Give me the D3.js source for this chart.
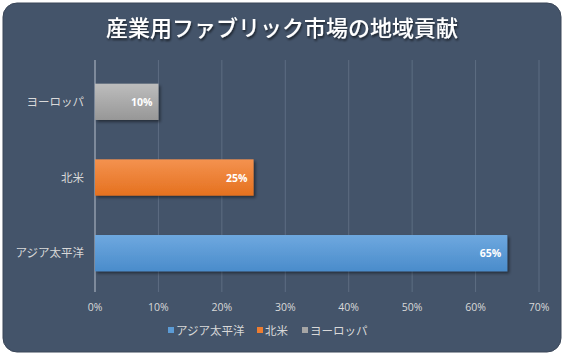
<!DOCTYPE html>
<html><head><meta charset="utf-8">
<script src="https://cdn.jsdelivr.net/npm/d3@7"></script>
<style>body{margin:0;background:#fff}svg{display:block}</style>
</head><body><svg id="c" width="564" height="356"></svg>
<script>
const categories = ["ヨーロッパ", "北米", "アジア太平洋"];
const values = [10, 25, 65];
const colors = ["#a5a5a5", "#ed7d31", "#5b9bd5"];
const legendOrder = ["アジア太平洋", "北米", "ヨーロッパ"];
const ticks = [0, 10, 20, 30, 40, 50, 60, 70];
const title = "産業用ファブリック市場の地域貢献";

const svg = d3.select("#c");
const font = "'Noto Sans CJK JP', 'Noto Sans', sans-serif";
const defs = svg.append("defs");
const sh = defs.append("filter").attr("id","sh").attr("x","-10%").attr("y","-20%").attr("width","130%").attr("height","160%");
sh.append("feDropShadow").attr("dx",2).attr("dy",2).attr("stdDeviation",1.5).attr("flood-color","#000").attr("flood-opacity",0.45);
const tsh = defs.append("filter").attr("id","tsh");
tsh.append("feDropShadow").attr("dx",1).attr("dy",2).attr("stdDeviation",1.2).attr("flood-color","#000").attr("flood-opacity",0.6);
const base = {"ヨーロッパ":["#bdbdbd","#979797"],"北米":["#f4924f","#e5711f"],"アジア太平洋":["#6ea8df","#4a8ccb"]};
categories.forEach((c,i)=>{
  const g = defs.append("linearGradient").attr("id","g"+i).attr("x1",0).attr("y1",0).attr("x2",0).attr("y2",1);
  g.append("stop").attr("offset","0%").attr("stop-color",base[c][0]);
  g.append("stop").attr("offset","100%").attr("stop-color",base[c][1]);
});

svg.append("rect").attr("x",3).attr("y",3).attr("width",558).attr("height",349).attr("rx",14).attr("fill","#44546a").attr("stroke","#3a4658");

svg.append("text").attr("x",282).attr("y",36).attr("text-anchor","middle").attr("fill","#fff")
  .attr("font-family",font).attr("font-size",22).attr("font-weight",500).attr("filter","url(#tsh)").text(title);

const x = d3.scaleLinear().domain([0,70]).range([95,539]);
const y = d3.scaleBand().domain(categories).range([64,291]).paddingInner(0.52).paddingOuter(0.26);

svg.append("g").selectAll("line").data(ticks.slice(1)).join("line")
  .attr("x1",d=>x(d)).attr("x2",d=>x(d)).attr("y1",60).attr("y2",292)
  .attr("stroke","#5d6d82").attr("stroke-width",1);
svg.append("line").attr("x1",x(0)).attr("x2",x(0)).attr("y1",60).attr("y2",292).attr("stroke","#b8c0cc").attr("stroke-width",1);

svg.append("g").selectAll("rect").data(categories).join("rect")
  .attr("x",x(0)).attr("y",d=>y(d)).attr("width",(d,i)=>x(values[i])-x(0)).attr("height",y.bandwidth())
  .attr("fill",(d,i)=>"url(#g"+i+")").attr("filter","url(#sh)");

svg.append("g").selectAll("text").data(categories).join("text")
  .attr("x",(d,i)=>x(values[i])-6).attr("y",d=>y(d)+y.bandwidth()/2+4)
  .attr("text-anchor","end").attr("fill","#fff").attr("font-family","'Open Sans', sans-serif")
  .attr("font-weight","bold").attr("font-size",10.5).text((d,i)=>values[i]+"%");

svg.append("g").selectAll("text").data(categories).join("text")
  .attr("x",84).attr("y",d=>y(d)+y.bandwidth()/2+4).attr("text-anchor","end")
  .attr("fill","#d9d9d9").attr("font-family",font).attr("font-size",11.5).text(d=>d);

svg.append("g").selectAll("text").data(ticks).join("text")
  .attr("x",d=>x(d)).attr("y",311).attr("text-anchor","middle").attr("fill","#d9d9d9")
  .attr("font-family","'Open Sans', sans-serif").attr("font-size",10.5).text(d=>d+"%");

const lg = svg.append("g");
const lw = [89, 45, 70];
let lx = 168;
legendOrder.forEach((n,i)=>{
  const ci = categories.indexOf(n);
  lg.append("rect").attr("x",lx).attr("y",327).attr("width",6).attr("height",6).attr("fill",colors[ci]);
  lg.append("text").attr("x",lx+8).attr("y",334.5).attr("fill","#d9d9d9").attr("font-family",font).attr("font-size",11.5).text(n);
  lx += lw[i];
});
</script></body></html>
